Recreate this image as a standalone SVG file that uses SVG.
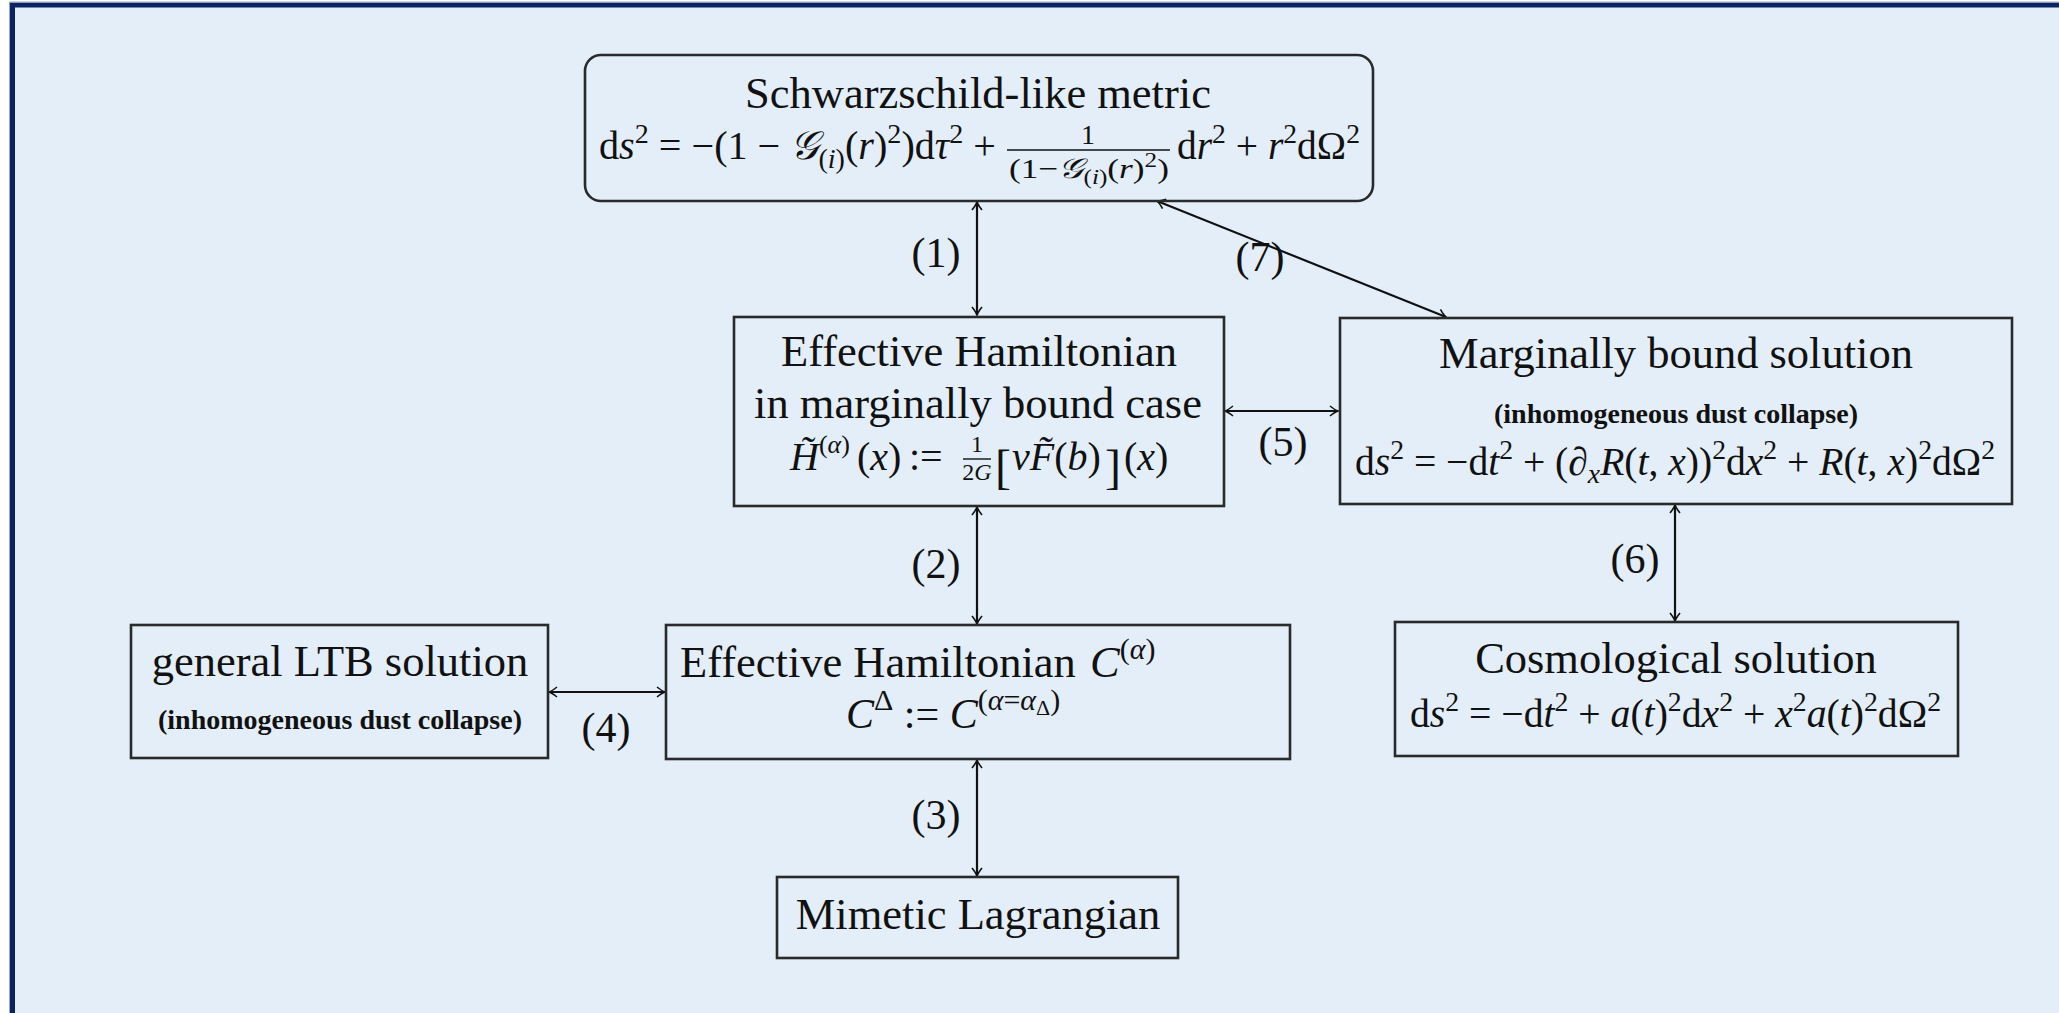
<svg xmlns="http://www.w3.org/2000/svg" width="2059" height="1013" viewBox="0 0 2059 1013">
<style>
text{font-family:'Liberation Serif','DejaVu Serif',serif;fill:#111}
.t{font-size:44.5px;text-anchor:middle}
.m{font-size:40px}
.sub{font-size:28px;font-weight:bold;text-anchor:middle}
.lab{font-size:42px;text-anchor:middle}
.i{font-style:italic}
.s{font-size:28px}
.box{fill:none;stroke:#2a2a2a;stroke-width:2.6}
.ln{stroke:#111;stroke-width:2.2;fill:none;marker-start:url(#ah);marker-end:url(#ah)}
</style>
<defs>
<marker id="ah" viewBox="-10 -6 12 12" refX="0" refY="0" markerWidth="12" markerHeight="12" markerUnits="userSpaceOnUse" orient="auto-start-reverse"><path d="M-8,-5 Q-3,-1 0,0 Q-3,1 -8,5" fill="none" stroke="#111" stroke-width="1.6"/></marker>
</defs>
<rect x="0" y="0" width="2059" height="1013" fill="#ffffff"/>
<rect x="12.5" y="5" width="2100" height="1100" fill="#E3EEF8" stroke="#0A2463" stroke-width="5"/>
<line x1="9.5" y1="2" x2="9.5" y2="1013" stroke="#9aa6bd" stroke-width="1"/>
<line x1="9.5" y1="2" x2="2059" y2="2" stroke="#9aa6bd" stroke-width="1"/>

<g id="connectors">
<line class="ln" x1="977" y1="202" x2="977" y2="315"/>
<line class="ln" x1="1157" y1="201" x2="1446" y2="317"/>
<line class="ln" x1="1225" y1="411" x2="1338" y2="411"/>
<line class="ln" x1="977" y1="507" x2="977" y2="624"/>
<line class="ln" x1="1675" y1="505" x2="1675" y2="621"/>
<line class="ln" x1="549" y1="692" x2="665" y2="692"/>
<line class="ln" x1="977" y1="760" x2="977" y2="876"/>
<text class="lab" x="936" y="267">(1)</text>
<text class="lab" x="1260" y="271">(7)</text>
<text class="lab" x="1283" y="456">(5)</text>
<text class="lab" x="936" y="578">(2)</text>
<text class="lab" x="1635" y="573">(6)</text>
<text class="lab" x="606" y="742">(4)</text>
<text class="lab" x="936" y="829">(3)</text>
</g>

<g id="node-schwarzschild">
<rect class="box" x="585" y="55" width="788" height="146" rx="16"/>
<text class="t" x="978" y="108">Schwarzschild-like metric</text>
<text class="m" x="599" y="159" textLength="397" lengthAdjust="spacingAndGlyphs">d<tspan class="i">s</tspan><tspan class="s" dy="-16">2</tspan><tspan dy="16"> = −(1 − </tspan><tspan class="i">𝒢</tspan><tspan class="s" dy="9">(<tspan class="i">i</tspan>)</tspan><tspan dy="-9">(<tspan class="i">r</tspan>)</tspan><tspan class="s" dy="-16">2</tspan><tspan dy="16">)d<tspan class="i">τ</tspan></tspan><tspan class="s" dy="-16">2</tspan><tspan dy="16"> +</tspan></text>
<text x="1088" y="144" font-size="28" text-anchor="middle">1</text>
<line x1="1007" y1="150" x2="1170" y2="150" stroke="#111" stroke-width="1.6"/>
<text x="1009" y="178" font-size="28" textLength="160" lengthAdjust="spacingAndGlyphs">(1−<tspan class="i">𝒢</tspan><tspan font-size="20" dy="6">(<tspan class="i">i</tspan>)</tspan><tspan dy="-6">(<tspan class="i">r</tspan>)</tspan><tspan font-size="20" dy="-11">2</tspan><tspan dy="11">)</tspan></text>
<text class="m" x="1177" y="159" textLength="183" lengthAdjust="spacingAndGlyphs">d<tspan class="i">r</tspan><tspan class="s" dy="-16">2</tspan><tspan dy="16"> + <tspan class="i">r</tspan></tspan><tspan class="s" dy="-16">2</tspan><tspan dy="16">dΩ</tspan><tspan class="s" dy="-16">2</tspan></text>
</g>

<g id="node-hamiltonian-mb">
<rect class="box" x="734" y="317" width="490" height="189"/>
<text class="t" x="979" y="366">Effective Hamiltonian</text>
<text class="t" x="978" y="418">in marginally bound case</text>
<text class="m" x="790" y="470"><tspan class="i">H̃</tspan><tspan font-size="26" dy="-17">(<tspan class="i">α</tspan>)</tspan></text>
<text class="m" x="857" y="470">(<tspan class="i">x</tspan>)</text>
<text class="m" x="909" y="470">:=</text>
<text x="977" y="452" font-size="24" text-anchor="middle">1</text>
<line x1="963" y1="459" x2="991" y2="459" stroke="#111" stroke-width="1.4"/>
<text x="977" y="480" font-size="24" text-anchor="middle">2<tspan class="i">G</tspan></text>
<text x="995" y="483" font-size="48">[</text>
<text class="m" x="1012" y="470"><tspan class="i">v</tspan><tspan class="i">F̃</tspan>(<tspan class="i">b</tspan>)</text>
<text x="1105" y="483" font-size="48">]</text>
<text class="m" x="1124" y="470">(<tspan class="i">x</tspan>)</text>
</g>

<g id="node-marginally-bound">
<rect class="box" x="1340" y="318" width="672" height="186"/>
<text class="t" x="1676" y="368">Marginally bound solution</text>
<text class="sub" x="1676" y="423">(inhomogeneous dust collapse)</text>
<text class="m" x="1355" y="475" textLength="640" lengthAdjust="spacingAndGlyphs">d<tspan class="i">s</tspan><tspan class="s" dy="-16">2</tspan><tspan dy="16"> = −d<tspan class="i">t</tspan></tspan><tspan class="s" dy="-16">2</tspan><tspan dy="16"> + (∂</tspan><tspan class="s i" dy="8">x</tspan><tspan dy="-8" class="i">R</tspan>(<tspan class="i">t</tspan>, <tspan class="i">x</tspan>))<tspan class="s" dy="-16">2</tspan><tspan dy="16">d<tspan class="i">x</tspan></tspan><tspan class="s" dy="-16">2</tspan><tspan dy="16"> + <tspan class="i">R</tspan>(<tspan class="i">t</tspan>, <tspan class="i">x</tspan>)</tspan><tspan class="s" dy="-16">2</tspan><tspan dy="16">dΩ</tspan><tspan class="s" dy="-16">2</tspan></text>
</g>

<g id="node-general-ltb">
<rect class="box" x="131" y="625" width="417" height="133"/>
<text class="t" x="340" y="676">general LTB solution</text>
<text class="sub" x="340" y="729">(inhomogeneous dust collapse)</text>
</g>

<g id="node-hamiltonian-c">
<rect class="box" x="666" y="625" width="624" height="134"/>
<text x="680" y="677" font-size="44.5">Effective Hamiltonian <tspan class="i" x="1090">C</tspan><tspan font-size="30" dy="-18">(<tspan class="i">α</tspan>)</tspan></text>
<text x="846" y="728" font-size="42"><tspan class="i">C</tspan><tspan font-size="30" dy="-18">Δ</tspan><tspan dy="18"> := </tspan><tspan class="i">C</tspan><tspan font-size="30" dy="-18">(<tspan class="i">α</tspan>=<tspan class="i">α</tspan></tspan><tspan font-size="22" dy="5">Δ</tspan><tspan font-size="30" dy="-5">)</tspan></text>
</g>

<g id="node-cosmological">
<rect class="box" x="1395" y="622" width="563" height="134"/>
<text class="t" x="1676" y="673">Cosmological solution</text>
<text class="m" x="1410" y="727" textLength="531" lengthAdjust="spacingAndGlyphs">d<tspan class="i">s</tspan><tspan class="s" dy="-16">2</tspan><tspan dy="16"> = −d<tspan class="i">t</tspan></tspan><tspan class="s" dy="-16">2</tspan><tspan dy="16"> + <tspan class="i">a</tspan>(<tspan class="i">t</tspan>)</tspan><tspan class="s" dy="-16">2</tspan><tspan dy="16">d<tspan class="i">x</tspan></tspan><tspan class="s" dy="-16">2</tspan><tspan dy="16"> + <tspan class="i">x</tspan></tspan><tspan class="s" dy="-16">2</tspan><tspan dy="16"><tspan class="i">a</tspan>(<tspan class="i">t</tspan>)</tspan><tspan class="s" dy="-16">2</tspan><tspan dy="16">dΩ</tspan><tspan class="s" dy="-16">2</tspan></text>
</g>

<g id="node-mimetic">
<rect class="box" x="777" y="877" width="401" height="81"/>
<text class="t" x="978" y="929">Mimetic Lagrangian</text>
</g>
</svg>
